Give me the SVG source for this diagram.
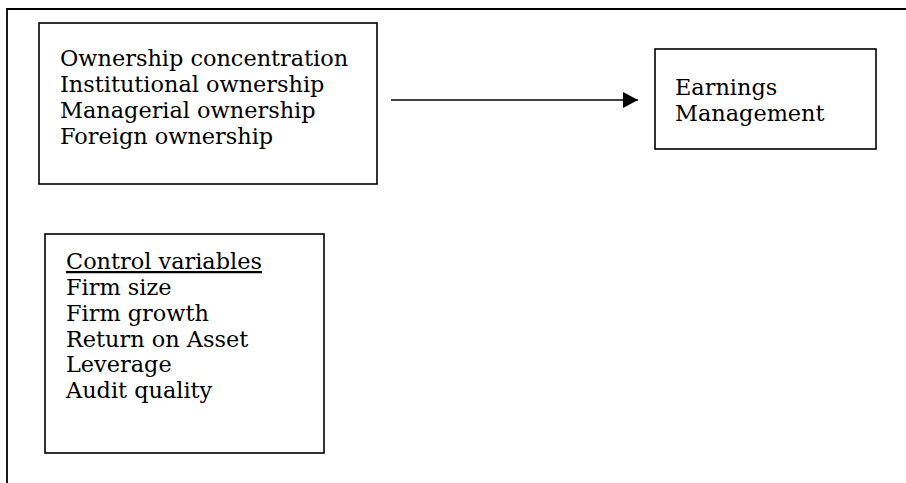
<svg xmlns="http://www.w3.org/2000/svg" width="906" height="483" viewBox="0 0 906 483">
<style>
.box{fill:#fff;stroke:#000;stroke-width:1.6}
.frame{fill:none;stroke:#000;stroke-width:1.8}
.t{font-family:"DejaVu Serif","Liberation Serif",serif;font-size:22.4px;fill:#000}
.conn{stroke:#000;stroke-width:1.6;fill:none}
</style>
<defs>
<marker id="ah" markerWidth="15" markerHeight="16" refX="15" refY="8" orient="auto" markerUnits="userSpaceOnUse">
<path d="M0,0 L15,8 L0,16 Z" fill="#000"/>
</marker>
</defs>
<rect width="906" height="483" fill="#fff"/>
<path class="frame" d="M7,483 L7,9 L906,9"/>
<g id="ownership">
<rect class="box" x="39" y="23" width="338" height="161"/>
<text class="t" x="60" y="66">Ownership concentration</text>
<text class="t" x="60" y="92">Institutional ownership</text>
<text class="t" x="60" y="118">Managerial ownership</text>
<text class="t" x="60" y="144">Foreign ownership</text>
</g>
<g id="earnings">
<rect class="box" x="655" y="49" width="221" height="100"/>
<text class="t" x="675" y="95">Earnings</text>
<text class="t" x="675" y="121">Management</text>
</g>
<g id="controls">
<rect class="box" x="45" y="234" width="279" height="219"/>
<text class="t" x="66" y="269" text-decoration="underline">Control variables</text>
<text class="t" x="66" y="295">Firm size</text>
<text class="t" x="66" y="321">Firm growth</text>
<text class="t" x="66" y="347">Return on Asset</text>
<text class="t" x="66" y="372">Leverage</text>
<text class="t" x="66" y="398">Audit quality</text>
</g>
<g id="connectors">
<line class="conn" x1="391" y1="100" x2="638" y2="100" marker-end="url(#ah)"/>
</g>
</svg>
